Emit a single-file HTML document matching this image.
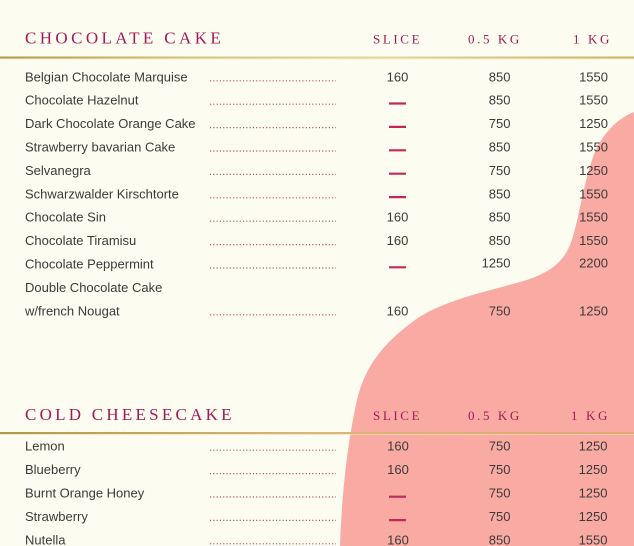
<!DOCTYPE html>
<html>
<head>
<meta charset="utf-8">
<style>
  html,body{margin:0;padding:0;background:#fdfcf1;}
  svg{display:block;}
  .n{font-family:"Liberation Sans",sans-serif;font-size:13px;fill:#3d3939;}
  .t{font-family:"Liberation Serif",serif;font-size:17px;fill:#a31a57;letter-spacing:3.4px;}
  .h{font-family:"Liberation Serif",serif;font-size:13px;fill:#a31a57;letter-spacing:2.6px;}
  .d{stroke:#b2456a;stroke-width:1.2;stroke-dasharray:1.1 2.2;}
  .m{stroke:#c2285a;stroke-width:2.2;}
</style>
</head>
<body>
<svg width="634" height="546" viewBox="0 0 634 546" xmlns="http://www.w3.org/2000/svg">
  <defs>
    <linearGradient id="g" x1="0" x2="1" y1="0" y2="0">
      <stop offset="0" stop-color="#b09a45"/>
      <stop offset="0.3" stop-color="#d5c47a"/>
      <stop offset="0.6" stop-color="#e4d79a"/>
      <stop offset="1" stop-color="#cbb263"/>
    </linearGradient>
    <linearGradient id="g2" x1="0" x2="1" y1="0" y2="0">
      <stop offset="0" stop-color="#b09a45"/>
      <stop offset="0.5" stop-color="#d8b878"/>
      <stop offset="1" stop-color="#e0a870"/>
    </linearGradient>
  </defs>
  <rect width="634" height="546" fill="#fdfcf1"/>
  <path d="M634,112 C618,118 600,135 592,160 C582,190 578,225 570,245 C562,265 545,275 520,282 C480,293 440,302 415,320 C385,342 365,365 357,400 C348,440 342,490 340,546 L634,546 Z" fill="#f9aba3"/>

  <!-- Section 1 -->
  <text class="t" x="25" y="43.5">CHOCOLATE CAKE</text>
  <text class="h" x="373" y="43.3">SLICE</text>
  <text class="h" x="468" y="43.3">0.5 KG</text>
  <text class="h" x="573" y="43.3">1 KG</text>
  <rect x="0" y="56.5" width="634" height="2" fill="url(#g)"/>
  <rect x="0" y="58.5" width="634" height="1" fill="#efe8c0" opacity="0.6"/>

  <g class="n">
    <text x="25" y="81.3">Belgian Chocolate Marquise</text>
    <text x="25" y="104.7">Chocolate Hazelnut</text>
    <text x="25" y="128.1">Dark Chocolate Orange Cake</text>
    <text x="25" y="151.5">Strawberry bavarian Cake</text>
    <text x="25" y="174.9">Selvanegra</text>
    <text x="25" y="198.3">Schwarzwalder Kirschtorte</text>
    <text x="25" y="221.7">Chocolate Sin</text>
    <text x="25" y="245.1">Chocolate Tiramisu</text>
    <text x="25" y="268.5">Chocolate Peppermint</text>
    <text x="25" y="291.9">Double Chocolate Cake</text>
    <text x="25" y="315.3">w/french Nougat</text>
  </g>
  <g class="d">
    <line x1="210" x2="336" y1="80.8" y2="80.8"/>
    <line x1="210" x2="336" y1="104.2" y2="104.2"/>
    <line x1="210" x2="336" y1="127.6" y2="127.6"/>
    <line x1="210" x2="336" y1="151" y2="151"/>
    <line x1="210" x2="336" y1="174.4" y2="174.4"/>
    <line x1="210" x2="336" y1="197.8" y2="197.8"/>
    <line x1="210" x2="336" y1="221.2" y2="221.2"/>
    <line x1="210" x2="336" y1="244.6" y2="244.6"/>
    <line x1="210" x2="336" y1="268" y2="268"/>
    <line x1="210" x2="336" y1="314.8" y2="314.8"/>
  </g>
  <g class="n" text-anchor="middle">
    <text x="397.5" y="81.3">160</text>
    <text x="397.5" y="221.7">160</text>
    <text x="397.5" y="245.1">160</text>
    <text x="397.5" y="315.3">160</text>
  </g>
  <g class="m">
    <line x1="389" x2="406" y1="103.5" y2="103.5"/>
    <line x1="389" x2="406" y1="126.9" y2="126.9"/>
    <line x1="389" x2="406" y1="150.3" y2="150.3"/>
    <line x1="389" x2="406" y1="173.7" y2="173.7"/>
    <line x1="389" x2="406" y1="197.1" y2="197.1"/>
    <line x1="389" x2="406" y1="267.3" y2="267.3"/>
  </g>
  <g class="n" text-anchor="end">
    <text x="510.5" y="81.3">850</text>
    <text x="510.5" y="104.7">850</text>
    <text x="510.5" y="128.1">750</text>
    <text x="510.5" y="151.5">850</text>
    <text x="510.5" y="174.9">750</text>
    <text x="510.5" y="198.3">850</text>
    <text x="510.5" y="221.7">850</text>
    <text x="510.5" y="245.1">850</text>
    <text x="510.5" y="267.5">1250</text>
    <text x="510.5" y="315.3">750</text>
    <text x="608" y="81.3">1550</text>
    <text x="608" y="104.7">1550</text>
    <text x="608" y="128.1">1250</text>
    <text x="608" y="151.5">1550</text>
    <text x="608" y="174.9">1250</text>
    <text x="608" y="198.3">1550</text>
    <text x="608" y="221.7">1550</text>
    <text x="608" y="245.1">1550</text>
    <text x="608" y="267.5">2200</text>
    <text x="608" y="315.3">1250</text>
  </g>

  <!-- Section 2 -->
  <text class="t" x="25" y="420" style="letter-spacing:3.25px">COLD CHEESECAKE</text>
  <text class="h" x="373" y="420">SLICE</text>
  <text class="h" x="468" y="420">0.5 KG</text>
  <text class="h" x="571" y="420">1 KG</text>
  <rect x="0" y="432" width="634" height="2" fill="url(#g2)"/>
  <rect x="0" y="434" width="634" height="1" fill="#efe0b8" opacity="0.6"/>

  <g class="n">
    <text x="25" y="450.7">Lemon</text>
    <text x="25" y="474.1">Blueberry</text>
    <text x="25" y="497.5">Burnt Orange Honey</text>
    <text x="25" y="520.9">Strawberry</text>
    <text x="25" y="544.3">Nutella</text>
  </g>
  <g class="d">
    <line x1="210" x2="336" y1="450.2" y2="450.2"/>
    <line x1="210" x2="336" y1="473.6" y2="473.6"/>
    <line x1="210" x2="336" y1="497" y2="497"/>
    <line x1="210" x2="336" y1="520.4" y2="520.4"/>
    <line x1="210" x2="336" y1="543.8" y2="543.8"/>
  </g>
  <g class="n" text-anchor="middle">
    <text x="398" y="450.7">160</text>
    <text x="398" y="474.1">160</text>
    <text x="398" y="544.3">160</text>
  </g>
  <g class="m">
    <line x1="389" x2="406" y1="496.7" y2="496.7"/>
    <line x1="389" x2="406" y1="520.1" y2="520.1"/>
  </g>
  <g class="n" text-anchor="end">
    <text x="510.5" y="450.7">750</text>
    <text x="510.5" y="474.1">750</text>
    <text x="510.5" y="497.5">750</text>
    <text x="510.5" y="520.9">750</text>
    <text x="510.5" y="544.3">850</text>
    <text x="607.5" y="450.7">1250</text>
    <text x="607.5" y="474.1">1250</text>
    <text x="607.5" y="497.5">1250</text>
    <text x="607.5" y="520.9">1250</text>
    <text x="607.5" y="544.3">1550</text>
  </g>
</svg>
</body>
</html>
